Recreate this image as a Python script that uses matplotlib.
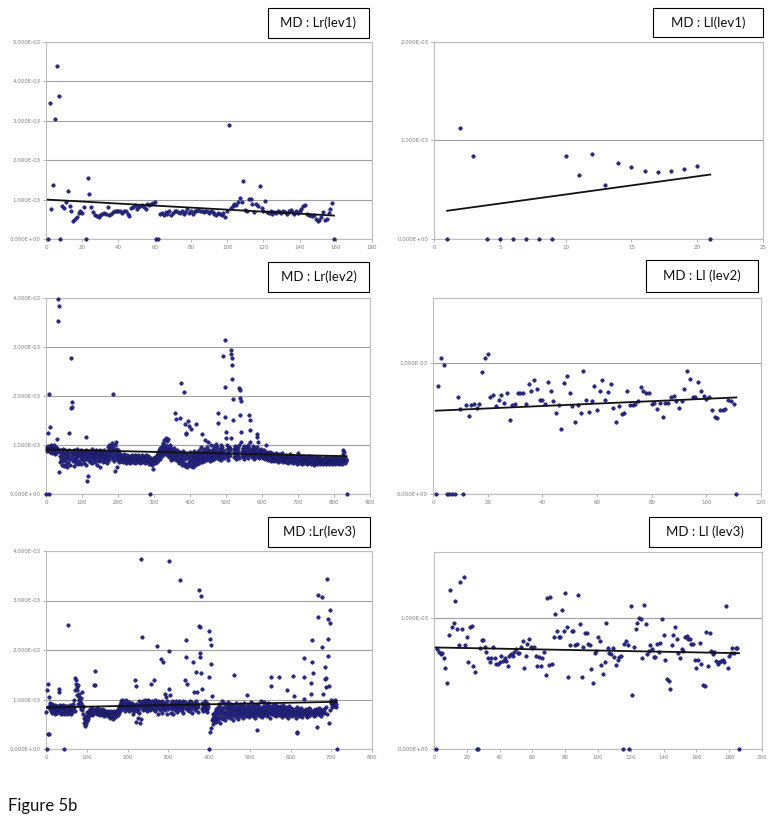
import numpy as np
import matplotlib
matplotlib.use("Agg")
import matplotlib.pyplot as plt
from matplotlib.patches import Rectangle
from matplotlib.ticker import FuncFormatter, MultipleLocator

# valeurs en unités de 1E-05 (85 -> 8.5E-04), abscisse = rang 1..N
lr_lev1 = [
    0, 346, 76, 136, 304, 438, 362, 0, 84, 78,
    93, 121, 84, 72, 46, 50, 55, 66, 72, 66,
    80, 0, 154, 113, 80, 68, 62, 58, 55, 60,
    63, 66, 64, 80, 60, 64, 68, 71, 70, 72,
    70, 67, 72, 70, 64, 58, 78, 82, 86, 76,
    80, 84, 86, 80, 77, 90, 86, 88, 92, 95,
    0, 0, 64, 66, 62, 68, 64, 70, 62, 66,
    70, 72, 68, 66, 70, 64, 68, 76, 66, 72,
    64, 70, 72, 74, 70, 72, 68, 70, 72, 66,
    70, 68, 64, 62, 66, 64, 62, 66, 55, 70,
    289, 78, 84, 90, 86, 95, 105, 94, 147, 74,
    72, 101, 101, 90, 68, 88, 84, 135, 78, 70,
    96, 68, 66, 70, 64, 68, 66, 70, 68, 66,
    70, 68, 64, 70, 74, 68, 64, 70, 66, 70,
    76, 84, 86, 64, 62, 60, 58, 62, 52, 46,
    48, 56, 68, 48, 50, 66, 76, 92, 0,
]

ll_lev1 = [0, 113, 84, 0, 0, 0, 0, 0, 0, 84, 65, 86, 55, 77, 73, 69, 68, 69, 71, 74, 0]

lr_lev2 = [
    0, 92, 88, 95, 124, 98, 205, 0, 90, 96, 85, 136, 94, 100, 88, 97, 92, 84, 98, 90, 95, 86, 100, 82, 93, 88, 96, 84, 91, 87,
    113, 397, 92, 353, 383, 88, 44, 78, 85, 65, 90, 72, 88, 60, 82, 75, 92, 68, 84, 58, 80, 90, 70, 86, 62, 78, 84, 74, 55, 88,
    82, 66, 90, 76, 124, 60, 85, 72, 176, 277, 188, 178, 80, 68, 86, 74, 58, 90, 84, 70, 82, 64, 88, 76, 80, 92, 70, 84, 62, 86,
    78, 88, 66, 80, 84, 72, 90, 62, 82, 76, 86, 70, 80, 88, 64, 84, 78, 72, 86, 90, 116, 60, 74, 82, 26, 70, 88, 36, 80, 76,
    84, 66, 88, 78, 72, 86, 80, 64, 92, 76, 82, 70, 88, 84, 74, 80, 66, 90, 82, 78, 60, 86, 72, 84, 88, 68, 80, 76, 90, 74,
    56, 82, 86, 70, 78, 84, 66, 88, 80, 74, 82, 90, 68, 76, 84, 72, 86, 80, 64, 78, 88, 74, 96, 82, 70, 100, 86, 78, 92, 84,
    98, 76, 104, 88, 72, 94, 205, 80, 90, 68, 100, 47, 86, 106, 74, 56, 92, 80, 70, 84, 76, 66, 88, 72, 78, 82, 70, 76, 68, 74,
    80, 72, 66, 78, 74, 70, 82, 68, 76, 72, 64, 78, 70, 74, 80, 68, 72, 76, 66, 74, 70, 78, 64, 72, 76, 70, 68, 74, 72, 80,
    70, 66, 76, 72, 68, 80, 74, 64, 72, 78, 70, 74, 66, 76, 72, 80, 68, 74, 70, 64, 76, 72, 78, 68, 74, 70, 66, 80, 72, 76,
    70, 74, 68, 78, 64, 72, 76, 70, 80, 66, 74, 70, 78, 72, 68, 76, 62, 74, 0, 70, 66, 72, 64, 60, 68, 74, 52, 63, 70, 66,
    72, 68, 76, 64, 74, 70, 80, 66, 72, 78, 84, 70, 90, 76, 82, 88, 72, 94, 80, 86, 98, 78, 92, 84, 104, 88, 96, 110, 82, 92,
    100, 114, 86, 94, 108, 80, 98, 90, 84, 112, 76, 92, 86, 100, 80, 70, 88, 94, 76, 82, 90, 72, 86, 78, 84, 94, 166, 80, 74, 153,
    88, 70, 82, 76, 90, 68, 84, 74, 80, 64, 156, 86, 72, 78, 66, 227, 84, 70, 60, 76, 88, 209, 64, 80, 143, 72, 58, 122, 84, 125,
    62, 78, 56, 148, 74, 66, 139, 80, 60, 72, 86, 132, 58, 76, 68, 82, 64, 70, 56, 78, 88, 66, 74, 60, 80, 84, 70, 143, 62, 76,
    86, 68, 74, 80, 90, 64, 78, 72, 84, 96, 70, 82, 123, 66, 88, 76, 80, 72, 92, 68, 86, 74, 110, 80, 70, 88, 96, 76, 84, 106,
    72, 82, 78, 90, 68, 86, 80, 100, 74, 88, 70, 84, 92, 76, 82, 98, 72, 86, 80, 90, 78, 102, 84, 74, 88, 96, 165, 80, 144, 86,
    72, 92, 80, 84, 76, 100, 70, 88, 82, 96, 281, 78, 90, 74, 86, 219, 314, 158, 114, 127, 82, 100, 76, 92, 84, 70, 96, 88, 78, 94,
    80, 90, 114, 294, 285, 277, 263, 235, 193, 150, 86, 76, 92, 98, 82, 88, 72, 96, 80, 84, 90, 78, 94, 86, 74, 100, 216, 212, 161, 195,
    190, 127, 107, 88, 80, 94, 76, 90, 84, 98, 72, 86, 92, 80, 88, 96, 78, 84, 90, 74, 86, 100, 82, 94, 162, 150, 131, 107, 80, 88,
    92, 76, 84, 98, 80, 88, 72, 90, 86, 94, 78, 82, 88, 76, 96, 122, 117, 107, 84, 80, 90, 74, 86, 82, 78, 92, 80, 84, 76, 88,
    82, 78, 86, 74, 80, 90, 76, 84, 72, 82, 100, 78, 86, 74, 80, 70, 84, 76, 82, 72, 78, 86, 74, 80, 68, 82, 76, 72, 84, 70,
    78, 74, 80, 68, 76, 82, 72, 78, 84, 70, 76, 72, 80, 66, 74, 78, 70, 82, 72, 76, 68, 80, 74, 70, 78, 84, 66, 74, 72, 76,
    70, 78, 74, 68, 76, 72, 80, 66, 74, 70, 78, 72, 64, 76, 70, 74, 82, 68, 72, 76, 66, 74, 70, 78, 64, 72, 76, 68, 74, 70,
    72, 66, 76, 70, 74, 62, 78, 68, 72, 84, 66, 74, 70, 76, 64, 72, 68, 74, 70, 76, 62, 72, 68, 78, 66, 74, 70, 64, 72, 68,
    74, 66, 70, 76, 62, 72, 68, 74, 64, 70, 78, 66, 72, 68, 74, 62, 70, 76, 66, 72, 64, 70, 68, 74, 60, 72, 66, 70, 76, 64,
    70, 66, 74, 62, 72, 68, 64, 70, 76, 66, 72, 62, 68, 74, 66, 70, 64, 72, 68, 62, 74, 66, 70, 64, 72, 68, 76, 62, 70, 66,
    72, 64, 68, 74, 66, 70, 62, 72, 68, 76, 64, 70, 66, 72, 62, 74, 68, 70, 64, 72, 66, 76, 68, 62, 70, 74, 66, 72, 64, 70,
    68, 74, 62, 70, 66, 72, 64, 76, 68, 70, 66, 74, 62, 70, 90, 82, 68, 72, 86, 64, 74, 70, 68, 72, 0,
]

ll_lev2 = [
    0, 83, 104, 99, 0, 0, 0, 0, 74, 65,
    0, 68, 60, 68, 69, 66, 69, 93, 104, 107,
    74, 76, 67, 72, 76, 70, 77, 57, 68, 69,
    77, 77, 77, 69, 84, 79, 87, 80, 72, 72,
    69, 86, 79, 71, 62, 68, 50, 85, 90, 77,
    67, 55, 68, 62, 94, 72, 63, 71, 83, 64,
    79, 87, 72, 78, 84, 66, 55, 67, 61, 62,
    79, 68, 68, 69, 71, 82, 79, 77, 77, 69,
    70, 65, 70, 59, 70, 70, 74, 75, 71, 66,
    71, 80, 94, 88, 74, 74, 86, 79, 75, 73,
    74, 64, 59, 58, 64, 64, 65, 72, 71, 69, 0,
]

lr_lev3 = [
    75, 0, 120, 84, 30, 132, 30, 105, 92, 80, 88, 76, 84, 72, 90, 80, 86, 74, 82, 78, 88, 70, 84, 76, 80, 86, 72, 82, 78, 84,
    122, 116, 74, 88, 80, 70, 86, 78, 82, 72, 88, 76, 0, 84, 70, 80, 86, 74, 78, 82, 70, 86, 80, 251, 76, 84, 72, 80, 88, 74,
    82, 70, 86, 78, 74, 90, 80, 84, 100, 76, 120, 143, 139, 132, 126, 119, 110, 130, 90, 106, 98, 112, 86, 94, 80, 104, 92, 116, 78, 86,
    70, 84, 52, 62, 46, 58, 66, 50, 62, 74, 56, 64, 72, 60, 68, 76, 70, 74, 80, 72, 78, 68, 76, 82, 70, 74, 129, 78, 72, 158,
    129, 80, 74, 70, 78, 82, 72, 76, 70, 80, 74, 68, 78, 72, 76, 70, 74, 80, 68, 76, 72, 78, 66, 74, 70, 76, 72, 68, 74, 70,
    72, 66, 76, 70, 74, 62, 72, 68, 76, 70, 66, 74, 68, 72, 60, 70, 76, 68, 72, 64, 74, 70, 66, 72, 76, 68, 80, 72, 76, 84,
    90, 80, 96, 86, 78, 92, 100, 84, 88, 94, 82, 96, 88, 76, 90, 84, 98, 86, 80, 92, 84, 88, 76, 94, 82, 88, 90, 80, 86, 92,
    78, 84, 88, 70, 82, 76, 86, 140, 80, 54, 90, 128, 76, 84, 62, 88, 72, 96, 80, 52, 88, 60, 94, 383, 84, 227, 90, 78, 96, 86,
    92, 80, 98, 88, 84, 94, 76, 90, 86, 100, 82, 96, 88, 92, 78, 94, 84, 132, 90, 86, 96, 80, 92, 139, 88, 84, 98, 76, 90, 94,
    80, 208, 88, 96, 84, 70, 92, 86, 78, 94, 181, 84, 90, 72, 96, 88, 80, 175, 86, 92, 112, 78, 84, 105, 90, 70, 86, 96, 80, 88,
    379, 198, 122, 109, 84, 92, 72, 88, 80, 96, 86, 70, 90, 82, 94, 78, 88, 84, 96, 80, 86, 74, 92, 88, 78, 96, 84, 90, 342, 86,
    80, 92, 76, 88, 84, 96, 72, 90, 86, 82, 94, 140, 186, 220, 88, 132, 80, 92, 78, 86, 90, 76, 96, 84, 88, 80, 94, 86, 72, 90,
    176, 84, 116, 92, 78, 88, 156, 96, 82, 116, 86, 74, 90, 84, 322, 248, 247, 193, 186, 153, 309, 122, 80, 92, 86, 76, 90, 82, 96, 84,
    88, 78, 92, 80, 86, 74, 90, 84, 146, 239, 0, 35, 223, 42, 210, 171, 107, 58, 50, 62, 70, 56, 66, 74, 60, 80, 54, 68, 76, 62,
    84, 58, 72, 90, 64, 78, 52, 86, 70, 62, 80, 74, 96, 60, 76, 84, 66, 92, 72, 58, 82, 70, 88, 64, 76, 94, 68, 80, 72, 86,
    62, 78, 90, 70, 84, 66, 76, 82, 58, 74, 150, 88, 68, 80, 72, 92, 64, 78, 84, 70, 76, 60, 86, 74, 80, 66, 90, 72, 78, 84,
    68, 76, 88, 62, 80, 72, 92, 70, 78, 84, 66, 74, 82, 109, 70, 88, 76, 64, 80, 72, 86, 68, 94, 78, 74, 82, 66, 90, 76, 70,
    84, 72, 78, 62, 88, 74, 80, 68, 38, 76, 90, 72, 84, 66, 78, 82, 70, 96, 74, 80, 64, 86, 72, 78, 94, 68, 82, 76, 70, 88,
    74, 80, 66, 84, 72, 92, 78, 70, 86, 62, 145, 127, 76, 82, 70, 88, 74, 80, 68, 84, 72, 78, 90, 66, 80, 74, 86, 70, 76, 82,
    68, 80, 145, 74, 86, 70, 78, 64, 84, 72, 76, 88, 68, 80, 74, 82, 70, 78, 66, 84, 119, 72, 80, 74, 62, 86, 70, 78, 68, 76,
    82, 72, 80, 66, 78, 74, 148, 70, 108, 76, 68, 80, 72, 62, 84, 35, 33, 78, 70, 74, 66, 80, 72, 76, 68, 82, 70, 74, 64, 78,
    72, 146, 102, 183, 70, 76, 68, 80, 72, 64, 78, 70, 74, 66, 82, 72, 76, 68, 80, 112, 134, 221, 176, 153, 74, 70, 78, 66, 72, 76,
    68, 80, 74, 70, 78, 45, 311, 267, 72, 76, 82, 68, 80, 74, 70, 66, 307, 206, 112, 78, 72, 80, 76, 142, 165, 126, 144, 84, 70, 344,
    262, 223, 188, 127, 52, 78, 280, 255, 99, 92, 88, 96, 84, 90, 94, 86, 92, 98, 88, 96, 84, 90, 0,
]

ll_lev3 = [
    0, 76, 74, 72, 73, 69, 62, 50, 87, 121,
    93, 96, 113, 91, 79, 127, 91, 131, 79, 85,
    66, 93, 94, 63, 59, 0, 0, 77, 83, 83,
    78, 74, 69, 66, 69, 78, 69, 65, 65, 66,
    71, 67, 69, 67, 63, 71, 72, 71, 74, 76,
    73, 73, 78, 82, 62, 71, 80, 84, 78, 77,
    78, 71, 63, 70, 63, 69, 74, 56, 115, 64,
    116, 65, 85, 103, 90, 85, 85, 106, 90, 119,
    93, 55, 79, 90, 90, 79, 80, 117, 95, 55,
    78, 88, 88, 80, 79, 61, 50, 73, 75, 85,
    82, 64, 57, 66, 96, 77, 73, 72, 77, 70,
    64, 68, 70, 71, 0, 80, 82, 79, 0, 109,
    41, 78, 91, 96, 100, 99, 69, 110, 95, 72,
    75, 79, 76, 70, 70, 80, 74, 81, 99, 87,
    68, 53, 52, 46, 79, 87, 93, 84, 73, 69,
    76, 75, 85, 86, 84, 84, 80, 80, 68, 62,
    68, 81, 65, 49, 48, 89, 63, 88, 75, 72,
    74, 67, 65, 66, 67, 68, 66, 109, 62, 71,
    73, 77, 73, 77, 77, 0,
]

W, H = 780, 824
fig = plt.figure(figsize=(W / 100, H / 100), dpi=100)
fig.patch.set_facecolor("white")

MARK_FACE = "#2a2a96"
MARK_EDGE = "#15154a"

panels = [
    # donnees, xmax, pas x, ymax, pas y, titre, axes px (x0, x1, y0, y1), cadre px (x0, x1, y0, y1)
    (lr_lev1, 180, 20, 5e-3, 1e-3, "MD : Lr(lev1)", (46, 372, 42, 239), (268, 369, 8, 38)),
    (ll_lev1, 25, 5, 2e-3, 1e-3, "MD : Ll(lev1)", (434, 763, 42, 239), (653, 763, 8, 37)),
    (lr_lev2, 900, 100, 4e-3, 1e-3, "MD : Lr(lev2)", (46, 370, 298, 494), (268, 369, 262, 292)),
    (ll_lev2, 120, 20, 1.5e-3, 1e-3, "MD : Ll (lev2)", (433, 761, 298, 494), (646, 758, 260, 292)),
    (lr_lev3, 800, 100, 4e-3, 1e-3, "MD :Lr(lev3)", (46, 372, 551, 749), (268, 370, 517, 547)),
    (ll_lev3, 200, 20, 1.5e-3, 1e-3, "MD : Ll (lev3)", (434, 762, 552, 749), (649, 761, 517, 547)),
]

for vals, xmax, xstep, ymax, ystep, title, apx, bpx in panels:
    x0, x1, y0, y1 = apx
    ax = fig.add_axes([x0 / W, 1 - y1 / H, (x1 - x0) / W, (y1 - y0) / H])
    y = np.array(vals) * 1e-5
    x = np.arange(1, len(y) + 1)

    ax.set_xlim(0, xmax)
    ax.set_ylim(0, ymax)
    ax.xaxis.set_major_locator(MultipleLocator(xstep))
    ax.yaxis.set_major_locator(MultipleLocator(ystep))
    ax.yaxis.set_major_formatter(FuncFormatter(lambda v, p: f"{v:.3E}"))
    ax.grid(axis="y", color="#a0a0a0", linewidth=0.8, zorder=0)
    ax.set_axisbelow(True)
    for s in ax.spines.values():
        s.set_color("#bdbdbd")
        s.set_linewidth(0.8)
    ax.tick_params(length=2.5, width=0.6, color="#a8a8a8", labelsize=4,
                   labelcolor="#808080", pad=1.5)

    ax.plot(x, y, "o", ms=2.5, mew=0.4, mfc=MARK_FACE, mec=MARK_EDGE,
            clip_on=False, zorder=3)

    # droite de tendance linéaire (type Excel)
    k, b = np.polyfit(x, y, 1)
    xl = np.array([x.min(), x.max()])
    ax.plot(xl, k * xl + b, color="#111111", linewidth=1.3, zorder=4)

    bx0, bx1, by0, by1 = bpx
    fig.add_artist(Rectangle((bx0 / W, 1 - by1 / H), (bx1 - bx0) / W, (by1 - by0) / H,
                             transform=fig.transFigure, facecolor="white",
                             edgecolor="black", linewidth=0.8))
    fig.text((bx0 + bx1) / 2 / W, 1 - (by0 + by1) / 2 / H, title, ha="center",
             va="center", fontsize=9.5, family="Lato", color="#111111")

fig.text(8 / W, 1 - 806 / H, "Figure 5b", ha="left", va="center", fontsize=12,
         family="Lato", color="#111111")

fig.savefig("out.png", dpi=100)
